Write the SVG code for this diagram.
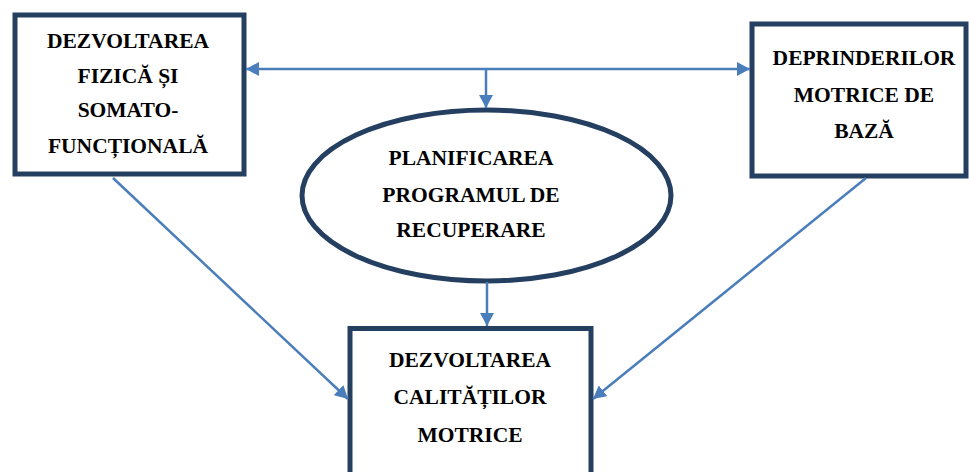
<svg xmlns="http://www.w3.org/2000/svg" width="969" height="472" viewBox="0 0 969 472">
<style>
.box{fill:#fff;stroke:#243F60;stroke-width:5}
.lbl{font-family:"Liberation Serif","Times New Roman",serif;font-weight:bold;font-size:21.5px;fill:#000;text-anchor:middle}
.con{stroke:#4A7EBB;stroke-width:2.5;fill:none;marker-end:url(#ah)}
</style>
<defs>
<marker id="ah" markerUnits="userSpaceOnUse" markerWidth="14" markerHeight="14" refX="13" refY="7" orient="auto-start-reverse" viewBox="0 0 14 14">
<path d="M0,0 L13,7 L0,14 z" fill="#4A7EBB"/>
</marker>
</defs>
<rect width="969" height="472" fill="#fff"/>
<g id="node-fizica">
<rect class="box" x="15" y="15" width="229" height="159"/>
<text class="lbl" x="128" y="48">DEZVOLTAREA</text>
<text class="lbl" x="128" y="83">FIZICĂ ȘI</text>
<text class="lbl" x="128" y="117">SOMATO-</text>
<text class="lbl" x="128" y="153">FUNCȚIONALĂ</text>
</g>
<g id="node-deprinderi">
<rect class="box" x="752" y="24" width="214" height="152"/>
<text class="lbl" x="864" y="65">DEPRINDERILOR</text>
<text class="lbl" x="864" y="102">MOTRICE DE</text>
<text class="lbl" x="864" y="138">BAZĂ</text>
</g>
<g id="node-planificare">
<ellipse class="box" cx="486.5" cy="195.5" rx="184.5" ry="85.5"/>
<text class="lbl" x="471" y="165">PLANIFICAREA</text>
<text class="lbl" x="471" y="202">PROGRAMUL DE</text>
<text class="lbl" x="471" y="237">RECUPERARE</text>
</g>
<g id="node-calitati">
<rect class="box" x="350" y="328.5" width="241" height="160"/>
<text class="lbl" x="470" y="367">DEZVOLTAREA</text>
<text class="lbl" x="470" y="404">CALITĂȚILOR</text>
<text class="lbl" x="470" y="442">MOTRICE</text>
</g>
<g id="connectors">
<line class="con" x1="246" y1="69" x2="750" y2="69" style="marker-start:url(#ah)"/>
<line class="con" x1="486" y1="69" x2="486" y2="108"/>
<line class="con" x1="487" y1="282" x2="487" y2="326"/>
<line class="con" x1="113" y1="178" x2="348" y2="399"/>
<line class="con" x1="866" y1="178" x2="593" y2="399"/>
</g>
</svg>
